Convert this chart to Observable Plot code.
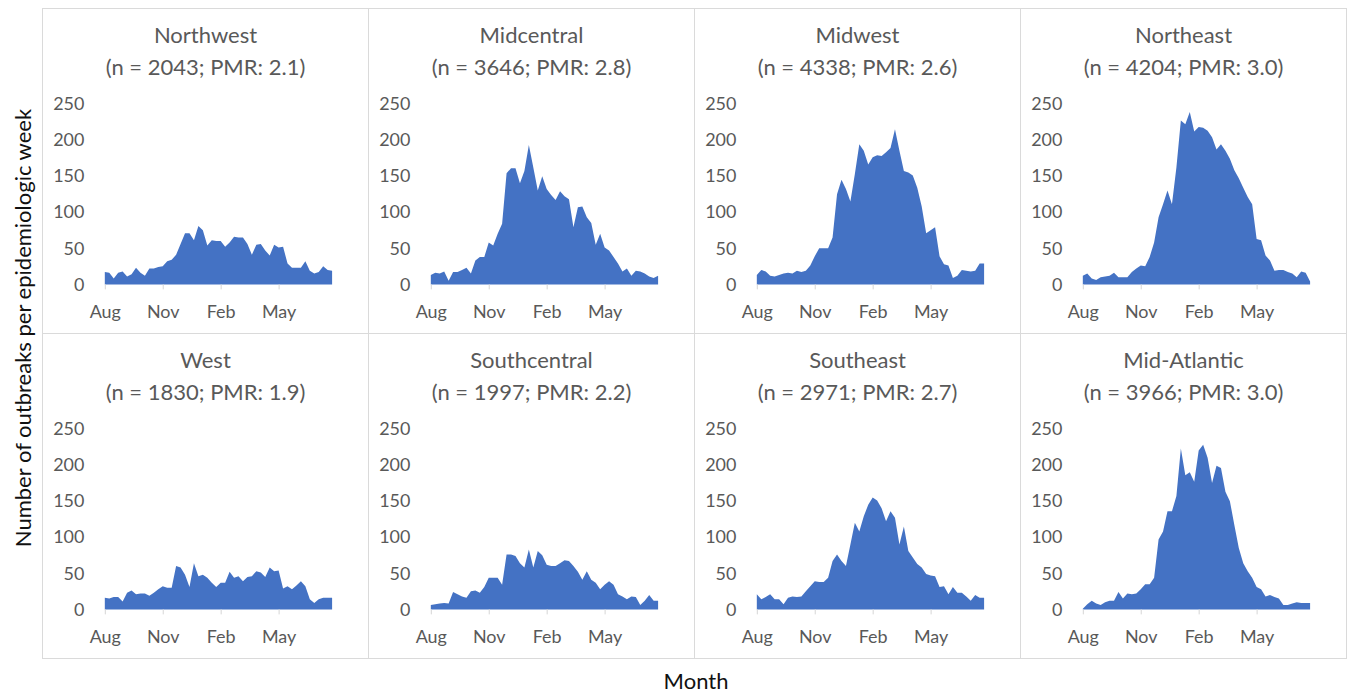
<!DOCTYPE html>
<html>
<head>
<meta charset="utf-8">
<script src="https://cdn.jsdelivr.net/npm/d3@7"></script>
<script src="https://cdn.jsdelivr.net/npm/@observablehq/plot@0.6"></script>
<style>
  html, body { margin: 0; padding: 0; background: #fff; }
  #root { position: relative; width: 1352px; height: 692px; font-family: Lato, "Open Sans", sans-serif; overflow: hidden; }
  .panel { position: absolute; box-sizing: border-box; border: 1px solid #dadada; }
  .title { position: absolute; left: 0; width: 100%; text-align: center; color: #595959; font-size: 22px; line-height: 32px; top: 10px; }
  .plot { position: absolute; left: 0; top: 80px; }
  .ylab { position: absolute; left: 22px; top: 328px; transform: translate(-50%, -50%) rotate(-90deg); white-space: nowrap; font-size: 22px; color: #111; }
  .xlab { position: absolute; left: 696px; top: 680px; transform: translate(-50%, -50%); font-size: 22px; color: #111; }
</style>
</head>
<body>
<div id="root"></div>
<script>
// ---- Data ----
const regions = ["Northwest", "Midcentral", "Midwest", "Northeast", "West", "Southcentral", "Southeast", "Mid-Atlantic"];
const nValues = [2043, 3646, 4338, 4204, 1830, 1997, 2971, 3966];
const pmrValues = ["2.1", "2.8", "2.6", "3.0", "1.9", "2.2", "2.7", "3.0"];
const monthTickWeeks = [0, 13, 26, 39];
const monthTickLabels = ["Aug", "Nov", "Feb", "May"];
const yTicks = [0, 50, 100, 150, 200, 250];

const northwest = [17,16,8,16,18,11,14,23,16,12,22,22,24,25,32,34,41,56,71,71,61,81,75,54,61,60,60,52,58,66,65,65,56,41,55,56,47,40,55,51,52,29,23,23,23,32,19,15,17,25,20,19];
const midcentral = [13,16,15,18,5,17,17,20,23,15,33,38,38,58,54,70,84,154,161,161,140,157,193,162,130,150,132,124,117,129,122,118,79,107,108,93,85,55,70,51,47,38,29,18,22,12,19,18,15,11,9,12];
const midwest = [13,20,18,12,11,13,15,16,15,19,17,19,26,39,50,50,50,65,125,145,132,115,153,194,185,166,176,179,178,183,189,215,185,157,155,151,134,108,71,75,79,39,28,26,9,12,20,19,18,19,29,29];
const northeast = [12,15,8,6,10,11,12,16,10,10,10,17,22,26,25,38,58,93,111,130,111,162,227,222,239,212,218,217,213,204,187,194,185,174,158,147,134,121,111,63,61,40,33,19,20,20,17,15,10,18,16,4];
const west = [16,15,17,17,11,23,26,21,22,22,19,23,28,32,30,30,60,58,48,31,64,46,48,44,37,31,37,37,52,44,46,39,45,46,53,51,45,58,53,54,29,32,28,33,39,32,14,9,14,16,16,16];
const southcentral = [6,7,8,9,8,24,21,18,16,25,26,23,31,44,44,44,34,76,76,74,64,58,83,58,81,75,62,60,60,64,68,67,60,52,41,53,41,37,28,34,39,34,21,18,14,18,17,6,12,20,12,12];
const southeast = [21,14,17,21,14,14,7,16,18,17,18,25,32,39,38,38,44,67,76,67,60,90,120,108,129,145,155,151,140,122,136,127,90,115,81,72,63,58,49,47,46,31,32,21,31,23,23,18,12,20,16,16];
const midAtlantic = [1,7,12,8,6,10,12,12,24,15,22,21,22,28,35,35,44,97,108,136,136,157,223,186,190,177,220,228,210,175,199,196,163,150,117,85,64,53,44,31,28,18,20,17,15,6,6,8,10,9,9,9];

const seriesList = [northwest, midcentral, midwest, northeast, west, southcentral, southeast, midAtlantic];

// ---- Layout ----
const root = document.getElementById("root");
const left0 = 42, top0 = 8, colW = 326, rowH = 325;

regions.forEach((name, k) => {
  const c = k % 4, r = Math.floor(k / 4);
  const panel = document.createElement("div");
  panel.className = "panel";
  panel.style.left = (left0 + colW * c) + "px";
  panel.style.top = (top0 + rowH * r) + "px";
  panel.style.width = (colW + 1) + "px";
  panel.style.height = (rowH + 1) + "px";

  const title = document.createElement("div");
  title.className = "title";
  title.innerHTML = `${name}<br>(n = ${nValues[k]}; PMR: ${pmrValues[k]})`;
  panel.appendChild(title);

  const data = seriesList[k].map((v, i) => ({week: i, value: v}));
  const chart = Plot.plot({
    width: 326,
    height: 236,
    marginLeft: 62,
    marginRight: 36,
    marginTop: 15,
    marginBottom: 40,
    x: {domain: [0, 51], axis: null},
    y: {domain: [0, 250], axis: null},
    style: {fontFamily: "Lato, 'Open Sans', sans-serif", fontSize: "18px", color: "#595959", background: "transparent", overflow: "visible"},
    marks: [
      Plot.areaY(data, {x: "week", y: "value", fill: "#4472C4"}),
      Plot.axisX({ticks: monthTickWeeks, tickFormat: (d) => monthTickLabels[monthTickWeeks.indexOf(d)], tickSize: 5, tickPadding: 15, stroke: "#d6d6d6", fill: "#595959", label: null}),
      Plot.axisY({ticks: yTicks, tickSize: 0, tickPadding: 21, fill: "#595959", label: null})
    ]
  });
  const holder = document.createElement("div");
  holder.className = "plot";
  holder.appendChild(chart);
  panel.appendChild(holder);
  root.appendChild(panel);
});

const ylab = document.createElement("div");
ylab.className = "ylab";
ylab.textContent = "Number of outbreaks per epidemiologic week";
root.appendChild(ylab);

const xlab = document.createElement("div");
xlab.className = "xlab";
xlab.textContent = "Month";
root.appendChild(xlab);
</script>
</body>
</html>
